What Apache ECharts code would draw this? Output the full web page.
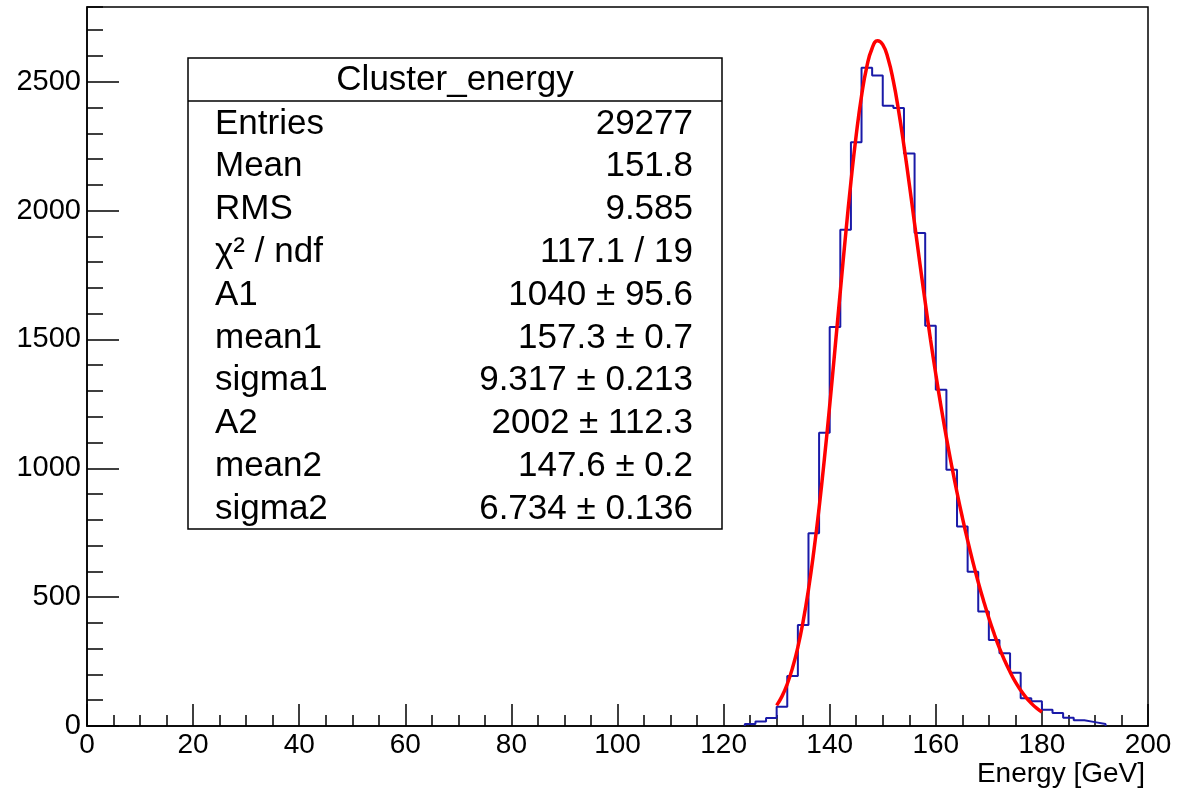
<!DOCTYPE html>
<html><head><meta charset="utf-8">
<script src="https://cdn.jsdelivr.net/npm/echarts@6/dist/echarts.min.js"></script>
<style>html,body{margin:0;padding:0;background:#fff}#c{width:1193px;height:794px}</style>
</head><body><div id="c"></div>
<script>
// Histogram: lower bin edges (GeV) and counts, bin width 2 GeV
const binWidth = 2;
const binLow = [124,126,128,130,132,134,136,138,140,142,144,146,148,150,152,154,156,158,160,162,164,166,168,170,172,174,176,178,180,182,184,186,188,190];
const counts = [8,17,31,75,194,392,748,1138,1548,1926,2265,2554,2524,2407,2398,2222,1913,1553,1305,994,774,599,444,334,282,207,108,96,63,50,32,22,15,8];

// Fit curve
const fitX = [130,131,132,133,134,135,136,137,138,139,140,141,142,143,144,145,146,147,148,149,150,151,152,153,154,155,156,157,158,159,160,161,162,163,164,165,166,167,168,169,170,171,172,173,174,175,176,177,178,179,180];
const fitY = [80,115,163,226,306,407,530,677,846,1037,1244,1464,1687,1906,2111,2293,2445,2559,2630,2659,2644,2590,2502,2386,2251,2103,1949,1795,1645,1500,1365,1238,1119,1009,906,810,720,636,558,486,419,358,302,253,210,171,139,111,88,69,54];

// Stats box
const statTitle = 'Cluster_energy';
const statLabels = ['Entries','Mean','RMS','χ² / ndf','A1','mean1','sigma1','A2','mean2','sigma2'];
const statValues = ['29277','151.8','9.585','117.1 / 19','1040 ± 95.6','157.3 ± 0.7','9.317 ± 0.213','2002 ± 112.3','147.6 ± 0.2','6.734 ± 0.136'];

const xTitle = 'Energy [GeV]';

const stepPts = [[binLow[0], 0]];
binLow.forEach((lo, i) => { stepPts.push([lo, counts[i]]); stepPts.push([lo + binWidth, counts[i]]); });
stepPts.push([binLow[binLow.length - 1] + binWidth, 0]);
const fitPts = fitX.map((x, i) => [x, fitY[i]]);

const FONT = '"Liberation Sans", Arial, Helvetica, sans-serif';
const black = '#000';
const boxFont = '35px ' + FONT;

const graphic = [
  {type:'rect', shape:{x:188, y:58, width:534, height:471}, style:{fill:'#fff', stroke:black, lineWidth:1.5}, z:10},
  {type:'line', shape:{x1:188, y1:101, x2:722, y2:101}, style:{stroke:black, lineWidth:1.5}, z:11},
  {type:'text', x:455, y:80, z:11, style:{text:statTitle, font:boxFont, fill:black, align:'center', textAlign:'center', verticalAlign:'middle', textVerticalAlign:'middle'}}
];
statLabels.forEach((lab, i) => {
  const y = 124 + i * 42.8;
  graphic.push({type:'text', x:215, y:y, z:11, style:{text:lab, font:boxFont, fill:black, align:'left', textAlign:'left', verticalAlign:'middle', textVerticalAlign:'middle'}});
  graphic.push({type:'text', x:693, y:y, z:11, style:{text:statValues[i], font:boxFont, fill:black, align:'right', textAlign:'right', verticalAlign:'middle', textVerticalAlign:'middle'}});
});

const chart = echarts.init(document.getElementById('c'), null, {renderer:'canvas'});
chart.setOption({
  animation:false,
  backgroundColor:'#fff',
  grid:{left:87, right:45, top:7, bottom:68, show:true, borderColor:black, borderWidth:1.5, backgroundColor:'transparent'},
  xAxis:{
    type:'value', min:0, max:200, interval:20,
    axisLine:{show:true, onZero:false, lineStyle:{color:black, width:1.5}},
    axisTick:{show:true, inside:true, length:22, lineStyle:{color:black, width:1.5}},
    minorTick:{show:true, splitNumber:4, length:11, lineStyle:{color:black, width:1.5}},
    splitLine:{show:false},
    axisLabel:{color:black, fontSize:28, fontFamily:FONT, margin:5, formatter:v => String(v)},
    name:xTitle, nameLocation:'end', nameGap:-3,
    nameTextStyle:{color:black, fontSize:28, fontFamily:FONT, align:'right', verticalAlign:'top', padding:[34,0,0,0]}
  },
  yAxis:[{
    type:'value', min:0, max:2790, interval:500,
    axisLine:{show:true, onZero:false, lineStyle:{color:black, width:1.5}},
    axisTick:{show:true, inside:true, length:32, lineStyle:{color:black, width:1.5}},
    splitLine:{show:false},
    axisLabel:{color:black, fontSize:29, fontFamily:FONT, margin:6, showMaxLabel:false, formatter:v => String(v)}
  },{
    type:'value', min:0, max:2790, interval:100, position:'left', offset:0,
    axisLine:{show:false},
    axisTick:{show:true, inside:true, length:16, lineStyle:{color:black, width:1.5}},
    splitLine:{show:false},
    axisLabel:{show:false}
  }],
  series:[
    {type:'line', data:stepPts, showSymbol:false, symbol:'none', lineStyle:{color:'#1a1aa8', width:2}, z:2, silent:true},
    {type:'line', data:fitPts, showSymbol:false, symbol:'none', smooth:true, lineStyle:{color:'#ff0000', width:3.5}, z:3, silent:true}
  ],
  graphic:graphic
});
</script>
</body></html>
